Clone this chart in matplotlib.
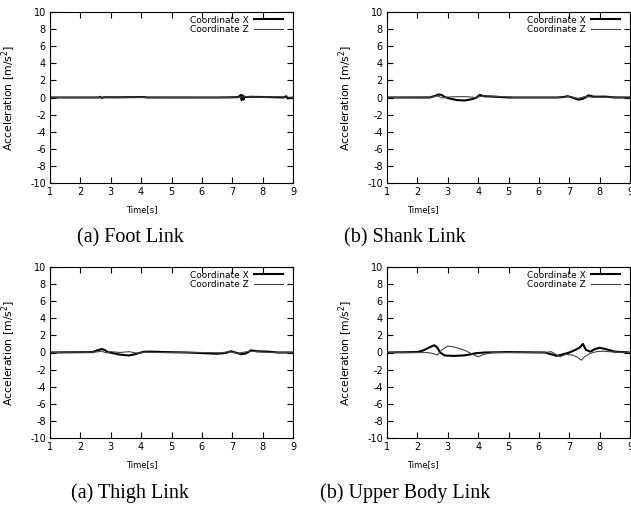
import matplotlib
matplotlib.use("Agg")
import matplotlib.pyplot as plt

plt.rcParams["axes.unicode_minus"] = False

# ---- data (time [s], acceleration [m/s^2]) ----
foot_t_x = [1.0, 2.6, 2.65, 2.7, 2.8, 3.2, 3.6, 4.1, 4.2, 6.5, 7.0, 7.2, 7.28, 7.31, 7.34, 7.37, 7.4, 7.45, 7.6, 8.2, 8.7, 8.78, 8.82, 9.0]
foot_x = [0.0, 0.0, 0.08, -0.05, 0.03, 0.02, 0.04, 0.05, 0.0, 0.0, 0.02, 0.05, 0.3, -0.3, 0.25, -0.25, 0.1, 0.05, 0.08, 0.05, 0.0, 0.15, -0.1, 0.0]
foot_t_z = [1.0, 2.6, 2.8, 3.5, 4.2, 6.5, 7.2, 7.5, 8.0, 8.6, 9.0]
foot_z = [0.0, 0.0, 0.05, 0.05, 0.02, 0.0, 0.05, 0.08, 0.05, 0.08, 0.0]

shank_t_x = [1.0, 2.4, 2.55, 2.7, 2.8, 2.9, 3.1, 3.3, 3.55, 3.8, 3.95, 4.05, 4.2, 4.5, 5.0, 6.6, 6.8, 6.95, 7.1, 7.3, 7.45, 7.55, 7.62, 7.8, 8.2, 8.5, 9.0]
shank_x = [0.0, 0.0, 0.15, 0.35, 0.3, 0.05, -0.15, -0.3, -0.35, -0.2, 0.0, 0.3, 0.15, 0.1, 0.0, 0.0, 0.05, 0.15, 0.0, -0.25, -0.15, 0.05, 0.25, 0.1, 0.1, 0.0, 0.0]
shank_t_z = [1.0, 2.5, 2.65, 2.8, 3.0, 3.3, 3.6, 3.9, 4.2, 4.8, 5.2, 6.6, 7.0, 7.3, 7.5, 7.8, 8.3, 9.0]
shank_z = [0.0, 0.05, 0.2, -0.05, 0.05, 0.1, 0.1, 0.0, 0.2, 0.1, 0.0, 0.0, 0.1, -0.1, 0.1, 0.05, 0.05, 0.0]

thigh_t_x = [1.0, 2.4, 2.55, 2.7, 2.8, 2.9, 3.1, 3.3, 3.6, 3.8, 4.0, 4.1, 4.3, 4.8, 5.5, 6.2, 6.5, 6.8, 6.95, 7.1, 7.3, 7.45, 7.55, 7.62, 7.8, 8.2, 8.5, 9.0]
thigh_x = [0.0, 0.05, 0.25, 0.4, 0.3, 0.05, -0.1, -0.25, -0.35, -0.2, 0.0, 0.1, 0.1, 0.05, 0.0, -0.1, -0.15, -0.05, 0.15, 0.0, -0.2, -0.1, 0.1, 0.25, 0.15, 0.1, 0.0, 0.0]
thigh_t_z = [1.0, 2.5, 2.7, 2.85, 3.0, 3.3, 3.6, 3.9, 4.1, 4.5, 5.0, 6.0, 6.6, 6.9, 7.2, 7.4, 7.6, 8.0, 8.5, 9.0]
thigh_z = [0.0, 0.05, 0.15, -0.05, 0.1, 0.0, 0.1, -0.1, 0.05, 0.0, 0.0, 0.0, -0.05, 0.1, -0.1, 0.05, 0.15, 0.05, 0.0, 0.0]

upper_t_x = [1.0, 2.0, 2.2, 2.4, 2.55, 2.65, 2.75, 2.9, 3.2, 3.5, 3.7, 3.9, 4.2, 5.0, 6.2, 6.4, 6.6, 6.8, 7.0, 7.2, 7.35, 7.45, 7.55, 7.7, 7.85, 8.0, 8.2, 8.5, 9.0]
upper_x = [0.0, 0.05, 0.25, 0.6, 0.85, 0.6, 0.0, -0.35, -0.4, -0.35, -0.25, -0.1, 0.0, 0.05, 0.0, -0.2, -0.4, -0.2, 0.0, 0.3, 0.6, 1.0, 0.3, 0.1, 0.4, 0.55, 0.4, 0.1, 0.0]
upper_t_z = [1.0, 2.3, 2.5, 2.65, 2.8, 3.0, 3.2, 3.35, 3.6, 3.8, 4.0, 4.2, 4.5, 6.2, 6.4, 6.7, 6.9, 7.1, 7.25, 7.4, 7.5, 7.7, 7.9, 8.1, 8.5, 9.0]
upper_z = [0.0, 0.0, -0.1, -0.3, 0.3, 0.75, 0.65, 0.5, 0.2, -0.2, -0.5, -0.2, 0.0, 0.0, 0.1, -0.5, -0.2, -0.3, -0.5, -0.9, -0.5, -0.1, 0.1, 0.15, 0.05, 0.0]

series = [
    (foot_t_x, foot_x, foot_t_z, foot_z),
    (shank_t_x, shank_x, shank_t_z, shank_z),
    (thigh_t_x, thigh_x, thigh_t_z, thigh_z),
    (upper_t_x, upper_x, upper_t_z, upper_z),
]
captions = ["(a) Foot Link", "(b) Shank Link", "(a) Thigh Link", "(b) Upper Body Link"]

W, H = 631, 511
fig = plt.figure(figsize=(W / 100, H / 100), dpi=100)

# axes boxes in pixels: left, top, right, bottom
boxes = [(50, 12, 293, 183), (387, 12, 630, 183), (50, 267, 293, 438), (387, 267, 630, 438)]
ylabel_x = [18, 355, 18, 355]
time_x = [142, 423, 142, 423]
time_y = [210, 210, 465, 465]
cap_x = [130, 405, 130, 405]
cap_y = [238, 238, 493, 493]

for i, (tx, x, tz, z) in enumerate(series):
    l, t, r, b = boxes[i]
    ax = fig.add_axes([l / W, 1 - b / H, (r - l) / W, (b - t) / H])
    ax.plot(tx, x, color="black", lw=1.5, label="Coordinate X")
    ax.plot(tz, z, color="#444444", lw=0.8, label="Coordinate Z")
    ax.set_xlim(1, 9)
    ax.set_ylim(-10, 10)
    ax.set_xticks(range(1, 10))
    ax.set_yticks(range(-10, 11, 2))
    ax.tick_params(direction="in", length=4, width=0.8, top=True, right=True,
                   labelsize=7, pad=3)
    for s in ax.spines.values():
        s.set_linewidth(0.8)
    ax.set_ylabel("Acceleration [m/s$^2$]", fontsize=7.8)
    ax.yaxis.set_label_coords((ylabel_x[i] - l) / (r - l), 0.5)
    ax.legend(loc="upper right", bbox_to_anchor=(0.975, 1.0), frameon=False,
              fontsize=6.5, markerfirst=False, handlelength=3.2,
              handletextpad=0.6, labelspacing=0.05, borderaxespad=0.2,
              borderpad=0.2)
    fig.text(time_x[i] / W, 1 - time_y[i] / H, "Time[s]", fontsize=6,
             ha="center", va="center")
    fig.text(cap_x[i] / W, 1 - cap_y[i] / H, captions[i], fontsize=14.5,
             family="Liberation Serif", ha="center", va="center")

fig.savefig("out.png", dpi=100)
